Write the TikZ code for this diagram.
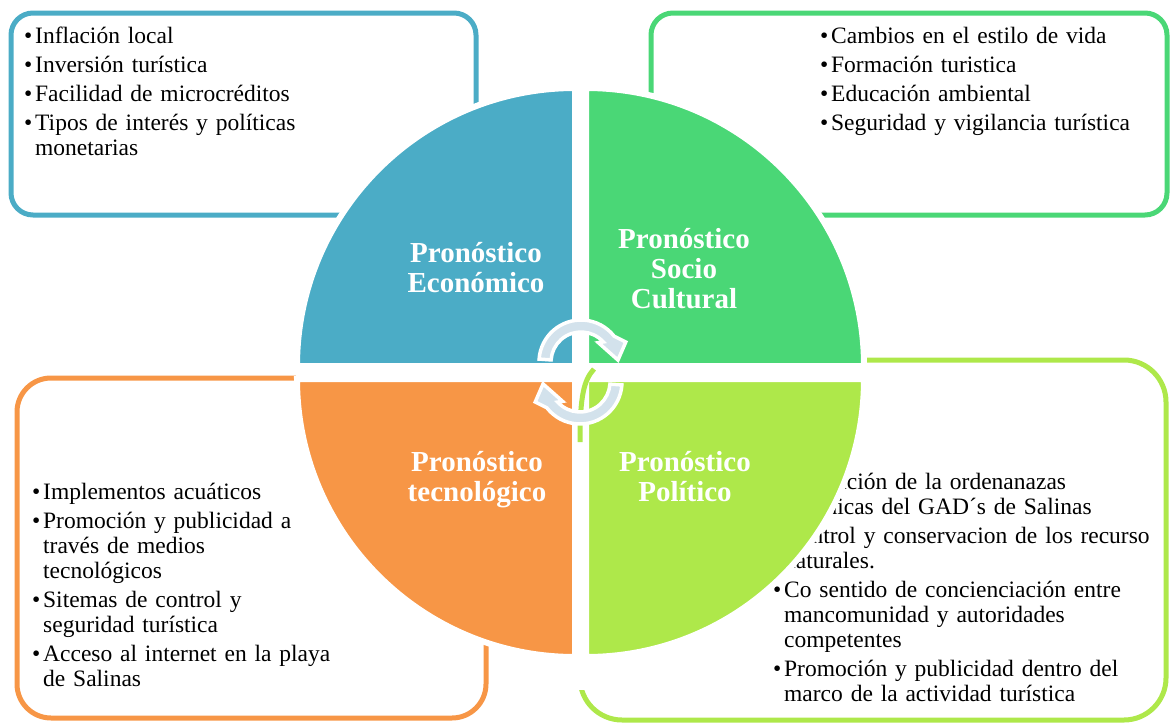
\documentclass[tikz,border=0pt]{standalone}
\usepackage{fontspec}
\setmainfont{Liberation Serif}
\usetikzlibrary{positioning}
\definecolor{econblue}{HTML}{4BACC6}
\definecolor{sociogreen}{HTML}{4AD776}
\definecolor{tecorange}{HTML}{F79646}
\definecolor{polilime}{HTML}{AEE84A}
\definecolor{cyclegray}{HTML}{D3E2EC}
\newcommand{\bitem}[1]{\par\hangindent=11pt\hangafter=1\noindent\makebox[11pt][l]{\textbullet}#1\par}
\tikzstyle{cyclearrow} = [
    fill=cyclegray,
    draw=white,
    line width=3.5
]

\begin{document}
\begin{tikzpicture}[
    x=1pt, y=-1pt,
    panel/.style={
        draw,
        line width=5
    },
    bullets/.style={
        anchor=north west,
        inner sep=0,
        align=left,
        font=\fontsize{23.5}{25}\selectfont
    },
    sector/.style={
        draw=white,
        line width=6
    },
    title/.style={
        anchor=north,
        inner sep=0,
        align=center,
        text=white,
        font=\bfseries\fontsize{29}{30}\selectfont
    }
]
\useasboundingbox (0,0) rectangle (1176,726);

% Outer boxes
\draw[panel, econblue, rounded corners=22] (11,13) rectangle (476,215);
\draw[panel, sociogreen, rounded corners=22] (651,13) rectangle (1167,215);
\draw[panel, tecorange, rounded corners=34] (17,378) rectangle (486,718);
\draw[panel, polilime, rounded corners=42] (580,360) rectangle (1166,720);

% Lists
\node[bullets, text width=440] (econlist) at (24,14.3) {%
  \setlength{\parskip}{4pt}%
  \bitem{Inflación local}
  \bitem{Inversión turística}
  \bitem{Facilidad de microcréditos}
  \bitem{Tipos de interés y políticas\newline monetarias}};
\node[bullets, text width=340] (sociolist) at (820,14.3) {%
  \setlength{\parskip}{4pt}%
  \bitem{Cambios en el estilo de vida}
  \bitem{Formación turistica}
  \bitem{Educación ambiental}
  \bitem{Seguridad y vigilancia turística}};
\node[bullets, text width=440] (teclist) at (32,470.6) {%
  \setlength{\parskip}{4pt}%
  \bitem{Implementos acuáticos}
  \bitem{Promoción y publicidad a\newline través de medios\newline tecnológicos}
  \bitem{Sitemas de control y\newline seguridad turística}
  \bitem{Acceso al internet en la playa\newline de Salinas}};
\node[bullets, text width=385] (polilist) at (773,460) {%
  \setlength{\parskip}{4pt}%
  \bitem{Aplicación de la ordenanazas\newline orgánicas del GAD´s de Salinas}
  \bitem{Control y conservacion de los recurso\newline naturales.}
  \bitem{Co sentido de concienciación entre\newline mancomunidad y autoridades\newline competentes}
  \bitem{Promoción y publicidad dentro del\newline marco de la actividad turística}};

% White gaps between quarters
\fill[white] (572,60) rectangle (589,690);
\fill[white] (296,363) rectangle (870,382);

% Circle quarters
\filldraw[sector, fill=econblue] (575,366) -- ++(180:278) arc[start angle=180, end angle=270, radius=278] -- cycle;
\filldraw[sector, fill=sociogreen] (586,366) -- ++(270:278) arc[start angle=270, end angle=360, radius=278] -- cycle;
\filldraw[sector, fill=tecorange] (575,379) -- ++(90:278) arc[start angle=90, end angle=180, radius=278] -- cycle;
\filldraw[sector, fill=polilime] (586,379) -- ++(0:278) arc[start angle=0, end angle=90, radius=278] -- cycle;
\draw[polilime, line width=5] (594,369) .. controls (584,380) and (580,395) .. (580,442);

% Titles
\node[title] (econ) at (476,241.7) {Pronóstico\\Económico};
\node[title] (socio) at (684,227.7) {Pronóstico\\Socio\\Cultural};
\node[title] (tec) at (477,450.7) {Pronóstico\\tecnológico};
\node[title] (poli) at (685,450.7) {Pronóstico\\Político};

% Cycle arrows
\coordinate (topc) at (581,362);
\coordinate (botc) at (580,382);
\filldraw[cyclearrow] ([shift={(184:42)}]topc) arc[start angle=184, end angle=322, radius=42]
  -- ([shift={(336:49)}]topc) -- ([shift={(357:37)}]topc) -- ([shift={(312:26)}]topc)
  -- ([shift={(318:30)}]topc) arc[start angle=318, end angle=184, radius=30] -- cycle;
\filldraw[cyclearrow] ([shift={(4:42)}]botc) arc[start angle=4, end angle=142, radius=42]
  -- ([shift={(156:49)}]botc) -- ([shift={(177:37)}]botc) -- ([shift={(132:26)}]botc)
  -- ([shift={(138:30)}]botc) arc[start angle=138, end angle=4, radius=30] -- cycle;

\end{tikzpicture}
\end{document}
